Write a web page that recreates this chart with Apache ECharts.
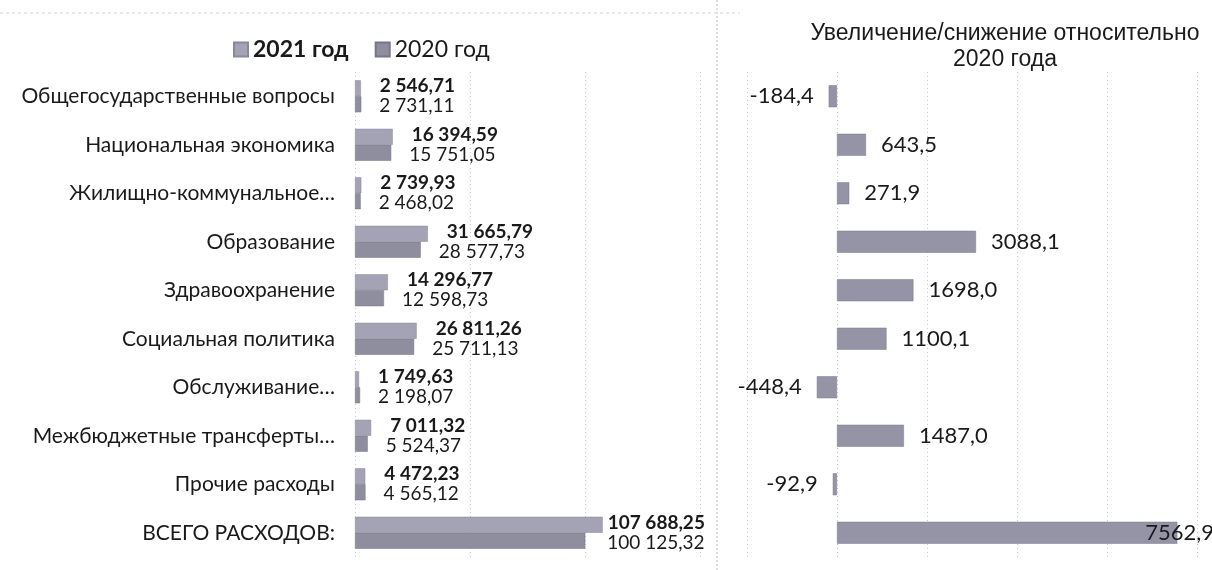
<!DOCTYPE html>
<html>
<head>
<meta charset="utf-8">
<script src="https://cdn.jsdelivr.net/npm/echarts@6/dist/echarts.min.js"></script>
<style>
html,body{margin:0;padding:0;background:#fff;}
#chart{width:1212px;height:570px;}
</style>
</head>
<body>
<div id="chart"></div>
<script>
const categories = ['Общегосударственные вопросы','Национальная экономика','Жилищно-коммунальное…','Образование','Здравоохранение','Социальная политика','Обслуживание…','Межбюджетные трансферты…','Прочие расходы','ВСЕГО РАСХОДОВ:'];
const values2021 = [2546.71,16394.59,2739.93,31665.79,14296.77,26811.26,1749.63,7011.32,4472.23,107688.25];
const values2020 = [2731.11,15751.05,2468.02,28577.73,12598.73,25711.13,2198.07,5524.37,4565.12,100125.32];
const changes = [-184.4,643.5,271.9,3088.1,1698.0,1100.1,-448.4,1487.0,-92.9,7562.9];
const seriesNames = ['2021 год','2020 год'];
const rightTitle = 'Увеличение/снижение относительно\n2020 года';

const FONT = 'Lato, Carlito, "Open Sans", sans-serif';

function fmt2(v){
  const s = v.toFixed(2).split('.');
  const int = s[0].replace(/\B(?=(\d{3})+(?!\d))/g, ' ');
  return int + ',' + s[1];
}
function fmt1(v){ return v.toFixed(1).replace('.', ','); }

const chart = echarts.init(document.getElementById('chart'));

const last = categories.length - 1;
const data2021 = values2021.map((v, i) => i === last ? { value: v, label: { offset: [-14, -2] } } : v);
const data2020 = values2020.map((v, i) => i === last ? { value: v, label: { offset: [4, 2] } } : v);
const changeData = changes.map((v, i) => {
  const item = { value: v, label: { position: v < 0 ? 'left' : 'right' } };
  if (i === last) item.label.offset = [-47, 0];
  return item;
});

const gridLine = { show: true, lineStyle: { color: '#c8c8c8', type: [1, 3], width: 1 } };

chart.setOption({
  backgroundColor: '#ffffff',
  animation: false,
  title: {
    text: rightTitle,
    left: 1000, top: 16, textAlign: 'center',
    textStyle: { fontFamily: '"Liberation Sans", Arial, sans-serif', fontSize: 23, fontWeight: 'normal', color: '#1a1a1a', lineHeight: 26 }
  },
  legend: {
    left: 228, top: 33, itemWidth: 14, itemHeight: 14, itemGap: 26,
    icon: 'rect',
    textStyle: { fontFamily: FONT, fontSize: 23, color: '#1a1a1a' },
    data: [
      { name: seriesNames[0], textStyle: { fontWeight: 'bold' } },
      { name: seriesNames[1] }
    ]
  },
  graphic: [
    { type: 'line', shape: { x1: 717, y1: 0, x2: 717, y2: 570 }, style: { stroke: '#bdbdbd', lineWidth: 1, lineDash: [2, 2] }, silent: true },
    { type: 'line', shape: { x1: 0, y1: 13, x2: 740, y2: 13 }, style: { stroke: '#d6d6d6', lineWidth: 1, lineDash: [3, 3] }, silent: true }
  ],
  grid: [
    { left: 355, width: 345, top: 72, height: 485 },
    { left: 747, width: 450, top: 72, height: 485 }
  ],
  xAxis: [
    { gridIndex: 0, type: 'value', min: 0, max: 150000, interval: 50000,
      axisLabel: { show: false }, axisLine: { show: false }, axisTick: { show: false }, splitLine: gridLine },
    { gridIndex: 1, type: 'value', min: -2000, max: 8000, interval: 2000,
      axisLabel: { show: false }, axisLine: { show: false }, axisTick: { show: false }, splitLine: gridLine }
  ],
  yAxis: [
    { gridIndex: 0, type: 'category', data: categories, inverse: true,
      axisLine: { show: false }, axisTick: { show: false },
      axisLabel: { margin: 20, fontFamily: FONT, fontSize: 21, color: '#1a1a1a' } },
    { gridIndex: 1, type: 'category', data: categories, inverse: true,
      axisLine: { show: false }, axisTick: { show: false }, axisLabel: { show: false } }
  ],
  series: [
    { name: seriesNames[0], type: 'bar', xAxisIndex: 0, yAxisIndex: 0, data: data2021,
      barWidth: 16, barGap: '0%',
      itemStyle: { color: '#a4a2b5', borderColor: '#8a889c', borderWidth: 0.5 },
      label: { show: true, position: 'right', distance: 19, offset: [0, -2], formatter: p => fmt2(p.value),
        fontFamily: FONT, fontSize: 19, fontWeight: 'bold', color: '#1a1a1a' } },
    { name: seriesNames[1], type: 'bar', xAxisIndex: 0, yAxisIndex: 0, data: data2020,
      barWidth: 16,
      itemStyle: { color: '#8f8e9f', borderColor: '#77758a', borderWidth: 0.5 },
      label: { show: true, position: 'right', distance: 18, offset: [0, 2], formatter: p => fmt2(p.value),
        fontFamily: FONT, fontSize: 19, color: '#1a1a1a' } },
    { name: 'Изменение', type: 'bar', xAxisIndex: 1, yAxisIndex: 1, data: changeData,
      barWidth: 22,
      itemStyle: { color: '#9594a6', borderColor: '#7a788c', borderWidth: 0.5 },
      label: { show: true, distance: 15, formatter: p => fmt1(p.value),
        fontFamily: FONT, fontSize: 22, color: '#1a1a1a' } }
  ]
});
</script>
</body>
</html>
